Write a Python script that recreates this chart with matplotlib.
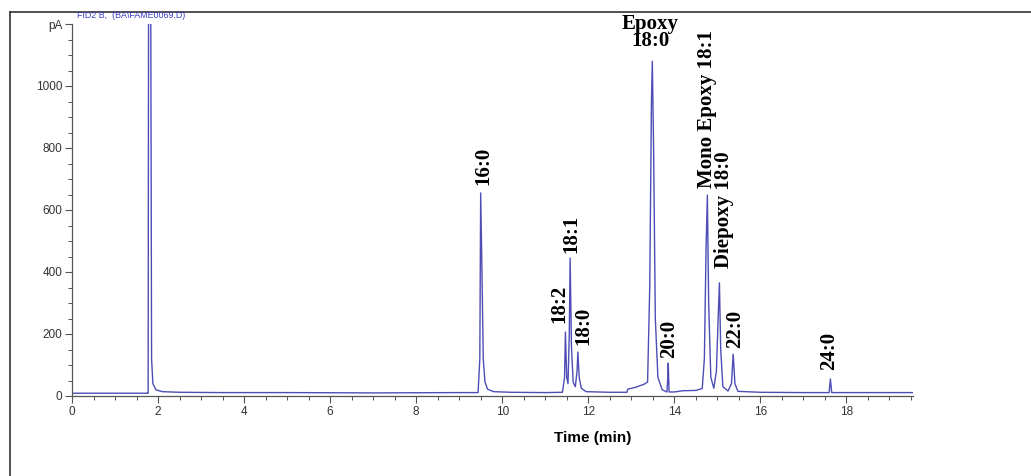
import matplotlib
matplotlib.use("Agg")
import matplotlib.pyplot as plt
from matplotlib.lines import Line2D

# chromatogram trace (time in min, signal in pA)
time_min = [0.0, 1.0, 1.75, 1.77, 1.78, 1.80, 1.82, 1.83, 1.85, 1.88, 1.95, 2.1, 2.5, 3.5,
            5.0, 7.0, 9.0, 9.44, 9.48, 9.50, 9.53, 9.56, 9.60, 9.66, 9.80, 10.2, 11.0,
            11.40, 11.45, 11.47, 11.50, 11.53, 11.56, 11.58, 11.61, 11.65, 11.70, 11.74,
            11.76, 11.79, 11.84, 11.95, 12.5, 12.90, 12.92, 13.10, 13.30, 13.38, 13.43,
            13.47, 13.49, 13.52, 13.56, 13.62, 13.72, 13.83, 13.85, 13.86, 13.88, 14.0,
            14.2, 14.5, 14.65, 14.70, 14.74, 14.77, 14.80, 14.85, 14.92, 14.98, 15.02,
            15.05, 15.08, 15.13, 15.25, 15.33, 15.37, 15.41, 15.48, 16.0, 17.0, 17.60,
            17.63, 17.66, 18.5, 19.55]
signal_pa = [9, 9, 9, 9, 1300, 1300, 1300, 1300, 120, 40, 20, 14, 12, 11,
             11, 10, 11, 11, 120, 655, 400, 120, 45, 22, 14, 12, 11,
             12, 60, 206, 60, 40, 200, 445, 160, 45, 30, 80,
             142, 60, 25, 14, 12, 12, 22, 28, 38, 45, 350,
             950, 1080, 800, 250, 60, 20, 13, 60, 106, 13, 13,
             17, 18, 24, 120, 480, 648, 300, 60, 25, 80, 250,
             365, 150, 30, 16, 40, 135, 40, 15, 12, 11, 11,
             55, 11, 11, 11]

# peak labels: text, time, bottom of label (pA), rotation
peak_labels = ["16:0", "18:2", "18:1", "18:0", "Epoxy\n18:0", "20:0",
               "Mono Epoxy 18:1", "Diepoxy 18:0", "22:0", "24:0"]
label_time = [9.56, 11.33, 11.60, 11.88, 13.44, 13.88, 14.77, 15.16, 15.42, 17.60]
label_y = [680, 235, 461, 165, 1112, 122, 671, 413, 155, 84]
label_rot = [90, 90, 90, 90, 0, 90, 90, 90, 90, 90]

y_ticks = [0, 200, 400, 600, 800, 1000, 1200]
y_tick_labels = ["0", "200", "400", "600", "800", "1000", "pA"]
x_ticks = [0, 2, 4, 6, 8, 10, 12, 14, 16, 18]

fig = plt.figure(figsize=(10.31, 4.76), dpi=100)
ax = fig.add_axes([72 / 1031, 1 - 396 / 476, (913 - 72) / 1031, 372 / 476])

ax.plot(time_min, signal_pa, color="#4d4db5", lw=1.0, clip_on=True)

ax.set_xlim(0, 19.55)
ax.set_ylim(0, 1200)
ax.set_xticks(x_ticks)
ax.set_xticks([i * 0.5 for i in range(40)], minor=True)
ax.set_yticks(y_ticks)
ax.set_yticklabels(y_tick_labels)
ax.set_yticks(list(range(0, 1201, 50)), minor=True)
for side in ["top", "right"]:
    ax.spines[side].set_visible(False)
for side in ["left", "bottom"]:
    ax.spines[side].set_color("#555555")
    ax.spines[side].set_linewidth(0.9)
ax.tick_params(which="major", length=5, width=0.8, color="#555555",
               labelsize=8.5, labelcolor="#333333", pad=2)
ax.tick_params(which="minor", length=3, width=0.7, color="#555555")
for lab in ax.get_xticklabels() + ax.get_yticklabels():
    lab.set_family("Liberation Sans")

for txt, t, y, r in zip(peak_labels, label_time, label_y, label_rot):
    ax.text(t, y, txt, rotation=r, ha="center", va="bottom", fontsize=15,
            family="Liberation Serif", fontweight="bold", linespacing=0.85,
            clip_on=False)

fig.text(77 / 1031, 1 - 16 / 476, "FID2 B,  (BA\\FAME0069.D)", fontsize=6.4,
         color="#3a3ac8", family="Liberation Sans", va="center", ha="left")
fig.text(593 / 1031, 1 - 438 / 476, "Time (min)", fontsize=11, fontweight="bold",
         family="Liberation Sans", ha="center", va="center")

# outer frame of the original figure
fig.add_artist(Line2D([10 / 1031, 1], [1 - 12 / 476, 1 - 12 / 476],
                      transform=fig.transFigure, color="#333333", lw=1.2))
fig.add_artist(Line2D([10 / 1031, 10 / 1031], [0, 1 - 12 / 476],
                      transform=fig.transFigure, color="#333333", lw=1.2))

fig.savefig("out.png", dpi=100)
